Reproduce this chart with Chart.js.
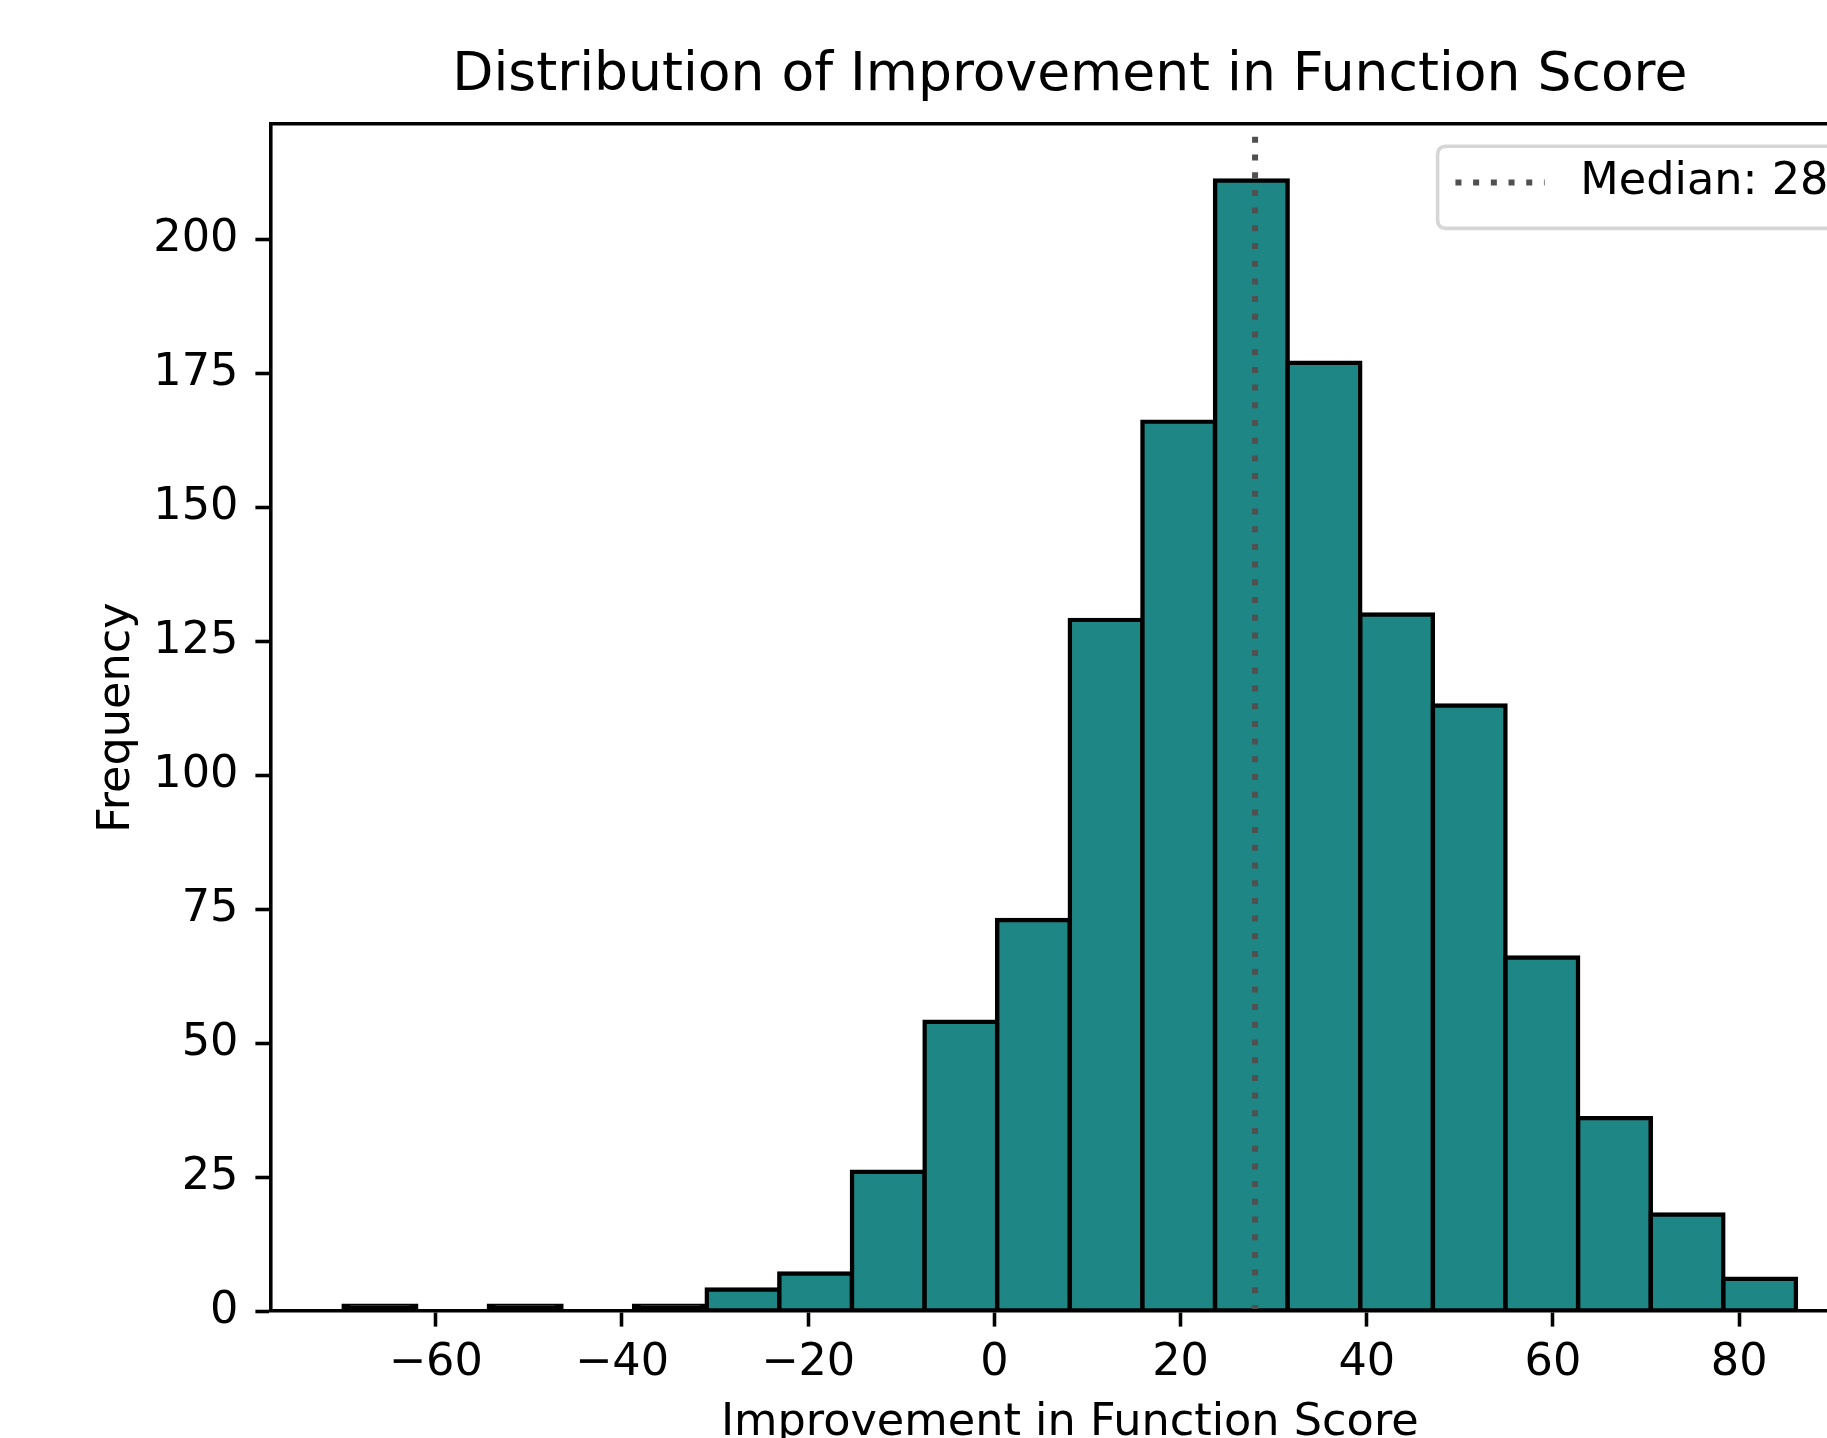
<!DOCTYPE html>
<html>
<head>
<meta charset="utf-8">
<script src="https://cdn.jsdelivr.net/npm/chart.js@4.4.1/dist/chart.umd.min.js"></script>
<style>
html,body{margin:0;padding:0;width:1827px;height:1438px;overflow:hidden;background:#ffffff;}
#wrap{position:absolute;left:0;top:2px;width:1900px;height:1500px;}
canvas{display:block;}
</style>
</head>
<body>
<div id="wrap"><canvas id="c" width="1900" height="1500"></canvas></div>
<script>
// ---- data ----
const binEdges = [-69.9, -62.1, -54.3, -46.5, -38.7, -30.9, -23.1, -15.3, -7.5, 0.3, 8.1,
                  15.9, 23.7, 31.5, 39.3, 47.1, 54.9, 62.7, 70.5, 78.3, 86.1];
const counts = [1, 0, 1, 0, 1, 4, 7, 26, 54, 73, 129, 166, 211, 177, 130, 113, 66, 36, 18, 6];
const medianValue = 28;
const medianLabel = 'Median: 28';
const xTickValues = [-60, -40, -20, 0, 20, 40, 60, 80];
const yTickValues = [0, 25, 50, 75, 100, 125, 150, 175, 200];
const titleText = 'Distribution of Improvement in Function Score';
const xAxisLabel = 'Improvement in Function Score';
const yAxisLabel = 'Frequency';

// ---- styling constants ----
const PT = 4.46;                 // pixels per point in this rendering
const FONT = 'DejaVu Sans';
const FS = 10 * PT;              // tick / label / legend font
const FS_TITLE = 12 * PT;
const SPINE_W = 0.8 * PT;
const TICK_LEN = 3.5 * PT;
const BAR_FILL = '#1f8686';
const MEDIAN_COLOR = '#505050';
const MEDIAN_W = 6;
const MEDIAN_DASH = [6, 11.7];

// derived limits (matplotlib-like 5% margins)
const span = binEdges[binEdges.length - 1] - binEdges[0];
const xMin = binEdges[0] - 0.05 * span;
const xMax = binEdges[binEdges.length - 1] + 0.05 * span;
const yMax = Math.max(...counts) * 1.05;

const barData = counts.map((c, i) => ({ x: (binEdges[i] + binEdges[i + 1]) / 2, y: c }));
const medianData = [{ x: medianValue, y: 0 }, { x: medianValue, y: yMax }];

const fmtMinus = v => (v < 0 ? '\u2212' + Math.abs(v) : String(v));

// very short bars are almost entirely covered by their edge line (as in matplotlib)
const barFill = c => {
  const y = c.chart.scales.y;
  if (!y || !c.raw) return BAR_FILL;
  const hPx = y.getPixelForValue(0) - y.getPixelForValue(c.raw.y);
  return hPx <= 1.3 * PT ? '#000000' : BAR_FILL;
};

const legendPlugin = {
  id: 'mplLegend',
  afterDraw(chart) {
    const ds = chart.data.datasets.find(d => d.showInLegendBox);
    if (!ds) return;
    const ctx = chart.ctx;
    const area = chart.chartArea;
    const pad = 0.5 * FS;          // border axes pad
    const borderPad = 0.4 * FS;
    const handleLen = 2.0 * FS;
    const textPad = 0.8 * FS;
    ctx.save();
    ctx.font = `${FS}px "${FONT}"`;
    const tw = ctx.measureText(ds.label).width;
    const w = borderPad + handleLen + textPad + tw + borderPad;
    const h = 1.84 * FS;
    const R = area.right - pad;
    const T = area.top + pad;
    const L = R - w;
    const r = 0.2 * FS;
    ctx.beginPath();
    ctx.moveTo(L + r, T);
    ctx.lineTo(R - r, T); ctx.quadraticCurveTo(R, T, R, T + r);
    ctx.lineTo(R, T + h - r); ctx.quadraticCurveTo(R, T + h, R - r, T + h);
    ctx.lineTo(L + r, T + h); ctx.quadraticCurveTo(L, T + h, L, T + h - r);
    ctx.lineTo(L, T + r); ctx.quadraticCurveTo(L, T, L + r, T);
    ctx.closePath();
    ctx.fillStyle = 'rgba(255,255,255,0.8)';
    ctx.fill();
    ctx.lineWidth = SPINE_W;
    ctx.strokeStyle = 'rgba(204,204,204,0.8)';
    ctx.stroke();
    const cy = T + 0.81 * FS;
    ctx.beginPath();
    ctx.setLineDash(ds.borderDash);
    ctx.lineWidth = ds.borderWidth;
    ctx.strokeStyle = ds.borderColor;
    ctx.moveTo(L + borderPad, cy);
    ctx.lineTo(L + borderPad + handleLen, cy);
    ctx.stroke();
    ctx.setLineDash([]);
    ctx.fillStyle = '#000000';
    ctx.textBaseline = 'middle';
    ctx.textAlign = 'left';
    ctx.fillText(ds.label, L + borderPad + handleLen + textPad, cy);
    ctx.restore();
  }
};

Chart.defaults.font.family = FONT;
Chart.defaults.color = '#000000';

new Chart(document.getElementById('c'), {
  type: 'bar',
  data: {
    datasets: [
      {
        type: 'line',
        label: medianLabel,
        data: medianData,
        borderColor: MEDIAN_COLOR,
        borderWidth: MEDIAN_W,
        borderDash: MEDIAN_DASH,
        borderCapStyle: 'butt',
        pointRadius: 0,
        fill: false,
        order: 0,
        showInLegendBox: true
      },
      {
        type: 'bar',
        label: 'Frequency',
        data: barData,
        backgroundColor: barFill,
        borderColor: '#000000',
        borderWidth: PT,
        borderSkipped: false,
        inflateAmount: PT / 2,
        barPercentage: 1,
        categoryPercentage: 1,
        order: 1
      }
    ]
  },
  options: {
    responsive: false,
    animation: false,
    devicePixelRatio: 1,
    layout: { padding: { left: 0, right: 31.4, top: 0, bottom: 0 } },
    plugins: {
      legend: { display: false },
      tooltip: { enabled: false },
      title: {
        display: true,
        text: titleText,
        fullSize: false,
        color: '#000000',
        font: { family: FONT, size: FS_TITLE, weight: 'normal', lineHeight: 1.2 },
        padding: { top: 42.4, bottom: 15.4 }
      }
    },
    scales: {
      x: {
        type: 'linear',
        position: 'bottom',
        min: xMin,
        max: xMax,
        offset: false,
        afterBuildTicks: s => { s.ticks = xTickValues.map(v => ({ value: v })); },
        afterFit: s => { s.height = 191; },
        grid: {
          display: true, offset: false, drawOnChartArea: false, drawTicks: true,
          tickLength: TICK_LEN, tickWidth: SPINE_W, tickColor: '#000000', color: '#000000'
        },
        border: { display: true, color: '#000000', width: SPINE_W, z: 1 },
        ticks: {
          padding: 10.2, color: '#000000', autoSkip: false, maxRotation: 0,
          font: { family: FONT, size: FS, lineHeight: 1.2 },
          callback: v => fmtMinus(v)
        },
        title: {
          display: true, text: xAxisLabel, color: '#000000',
          font: { family: FONT, size: FS, lineHeight: 1.2 },
          padding: { top: 0, bottom: 51.5 }
        }
      },
      xTop: {
        type: 'linear',
        position: 'top',
        min: xMin,
        max: xMax,
        afterFit: s => { s.height = 0; },
        grid: { display: false, drawTicks: false },
        ticks: { display: false },
        border: { display: true, color: '#000000', width: SPINE_W, z: 1 }
      },
      y: {
        type: 'linear',
        position: 'left',
        min: 0,
        max: yMax,
        afterBuildTicks: s => { s.ticks = yTickValues.map(v => ({ value: v })); },
        afterFit: s => { s.width = 271; },
        grid: {
          display: true, drawOnChartArea: false, drawTicks: true,
          tickLength: TICK_LEN, tickWidth: SPINE_W, tickColor: '#000000', color: '#000000'
        },
        border: { display: true, color: '#000000', width: SPINE_W, z: 1 },
        ticks: {
          padding: 17, color: '#000000',
          font: { family: FONT, size: FS, lineHeight: 1.2 },
          callback: v => fmtMinus(v)
        },
        title: {
          display: true, text: yAxisLabel, color: '#000000',
          font: { family: FONT, size: FS, lineHeight: 1.2 },
          padding: { top: 90.4, bottom: 0 }
        }
      }
    }
  },
  plugins: [legendPlugin]
});
</script>
</body>
</html>
